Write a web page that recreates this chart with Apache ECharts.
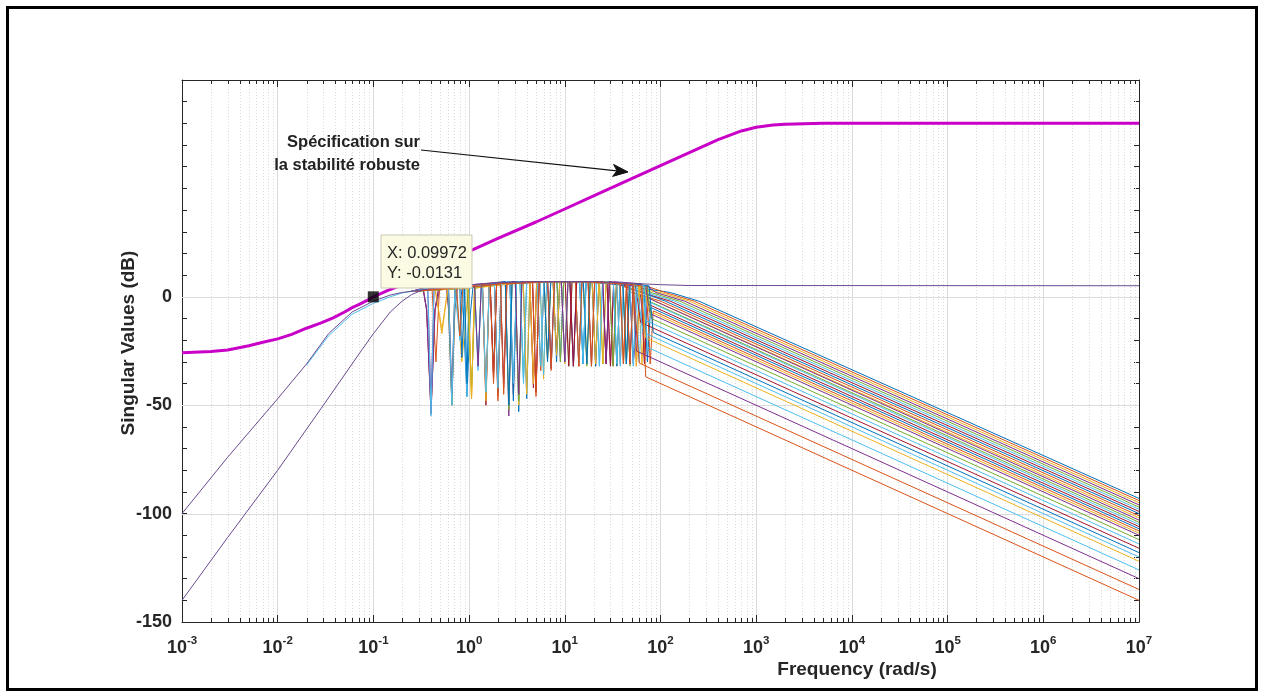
<!DOCTYPE html>
<html>
<head>
<meta charset="utf-8">
<title>Singular values</title>
<script src="https://cdn.jsdelivr.net/npm/echarts@6/dist/echarts.min.js"></script>
<style>
html, body { margin: 0; padding: 0; background: #fff; }
#main { width: 1263px; height: 697px; }
</style>
</head>
<body>
<div id="main"></div>
<script>
var FONT = '"Liberation Sans", Arial, Helvetica, sans-serif';
var AXIS_COLOR = '#262626';

// axis ticks
var decadeExp = [-3, -2, -1, 0, 1, 2, 3, 4, 5, 6, 7];
var minorMult = [2, 3, 4, 5, 6, 7, 8, 9];
var yLabelled = [-150, -100, -50, 0];
var hGrid = [-100, -50, 0];

// robust stability specification (thick magenta)
var specCurve = [[0.001,-25.8],[0.002,-25.2],[0.003,-24.5],[0.005,-22.6],[0.007,-21],[0.01,-19.4],[0.014,-17.3],
  [0.02,-14.5],[0.028,-12.1],[0.038,-9.7],[0.05,-7],[0.06,-5],[0.072,-3.4],[0.085,-1.8],[0.1,0],[0.14,2.8],
  [0.2,5.5],[0.3,9.5],[0.5,14.5],[1,21],[2,27],[5,34.5],[10,40.5],[20,46.5],[50,54.5],[100,60.5],[200,66.5],
  [400,72.5],[700,76.5],[1000,78.2],[1500,79.2],[2000,79.6],[5000,80],[1e7,80]];

// low-frequency branches
var lowA = [[0.001,-100],[0.003,-74],[0.01,-47],[0.02,-31],[0.034,-17],[0.06,-7],[0.1,-2],[0.15,0.8],[0.2,2],
  [0.3,3],[0.4,3.8],[0.6,4.5],[1,5.5],[2,6.5],[5,7],[20,7],[50,6.2],[100,5.6],[200,5.2],[1e7,5.1]];
var lowB = [[0.001,-140],[0.003,-111],[0.01,-80],[0.03,-50],[0.076,-24.4],[0.1,-17],[0.15,-7],[0.2,-2],[0.25,1],[0.32,3]];
var lowTeal = [[0.02,-31.5],[0.034,-18],[0.06,-8],[0.1,-3],[0.15,0],[0.2,1.8],[0.3,3]];

// resonant singular values with their high-frequency roll-off
var sv01 = [[0.25,2.5],[0.82,5],[0.87,-8],[0.95,-46],[1.03,-8],[1.1,5],[3.04,7],[3.3,-53],[3.56,7],[11.3,7],[12.3,-32],[13.3,7],[40.5,6],[44,-31],[47.5,6],[63,4],[126,2],[252,-2],[1e7,-93]];
var sv02 = [[0.25,2.5],[0.33,4],[0.36,-6],[0.4,-54],[0.44,-6],[0.48,4],[1.84,6],[2,-46],[2.16,6],[6.07,7],[6.6,-29],[7.13,7],[19.3,7],[21,-32],[22.7,7],[51.5,6],[56,-32],[60.5,6],[112,2],[224,-2],[1e7,-94]];
var sv03 = [[0.25,2.5],[0.44,4],[0.52,-17],[0.6,4],[0.73,4],[0.84,-30],[0.98,4],[1.06,-47],[1.14,5],[1.38,5],[1.5,-48],[1.62,5],[4.32,7],[4.7,-40],[5.08,7],[15.6,7],[17,-31],[18.4,7],[32.2,6],[35,-32],[37.8,6],[50,4],[100,2],[200,-2],[1e7,-95]];
var sv04 = [[0.25,2.5],[0.33,4],[0.36,-6],[0.4,-52],[0.44,-6],[0.5,4],[0.58,4],[0.61,-6],[0.66,-50],[0.71,-6],[0.76,5],[2.39,7],[2.6,-55],[2.81,7],[8.28,7],[9,-30],[9.72,7],[27.6,7],[30,-32],[32.4,7],[62.6,6],[68,-31],[73.4,5],[89,2],[178,-2],[1e7,-96]];
var sv05 = [[0.25,2.5],[0.6,4],[0.66,-48],[0.72,4],[1.14,5],[1.24,-32],[1.34,5],[3.4,7],[3.7,-38],[4,7],[10.1,7],[11,-32],[11.9,7],[23,7],[25,-31],[27,7],[44.2,6],[48,-32],[51.8,6],[79,2],[158,-2],[1e7,-97]];
var sv06 = [[0.25,2.5],[0.7,4],[0.8,-18],[0.88,4],[0.91,4],[0.95,-46],[1,4],[1.66,6],[1.8,-35],[1.94,6],[5.15,7],[5.6,-34],[6.05,7],[14.3,7],[15.5,-31],[16.7,7],[37.7,6],[41,-31],[44.3,6],[71,2],[141,-2],[1e7,-98]];
var sv07 = [[0.25,2.5],[1.2,5],[1.38,5],[1.5,-50],[1.62,5],[2.67,7],[2.9,-45],[3.13,7],[7.54,7],[8.2,-26],[8.86,7],[12.9,7],[14,-32],[15.1,7],[29.4,6],[32,-32],[34.6,6],[63,2],[126,-2],[1e7,-99]];
var sv08 = [[0.25,2.5],[1.84,6],[2,-44],[2.16,6],[3.68,7],[4,-47],[4.32,7],[6.62,7],[7.2,-33],[7.78,7],[19.3,7],[21,-32],[22.7,7],[47.8,5],[52,-31],[56.2,3],[112,-2],[1e7,-100]];
var sv09 = [[0.25,2.5],[0.41,4],[0.45,-30],[0.49,4],[2.12,6],[2.3,-40],[2.48,6],[9.2,7],[10,-30],[10.8,7],[35,6],[38,-31],[41,5],[50,2],[100,-2],[1e7,-101]];
var sv10 = [[0.25,2.5],[0.98,4],[1.06,-47],[1.14,4],[3.04,7],[3.3,-50],[3.56,7],[5.52,7],[6,-38],[6.48,7],[17.5,7],[19,-32],[20.5,7],[58.9,5],[64,-31],[70,0],[1e7,-102]];
var sv11 = [[0.25,2.5],[0.33,4],[0.36,-6],[0.4,-54],[0.44,-6],[0.48,4],[1.38,5],[1.5,-45],[1.62,5],[4.6,7],[5,-44],[5.4,7],[11.3,7],[12.3,-32],[13.3,7],[24.8,7],[27,-30],[29.2,6],[47.8,5],[52,-30],[62,1],[1e7,-103]];
var sv12 = [[0.25,2.5],[0.61,4],[0.66,-50],[0.71,4],[2.39,6],[2.6,-52],[2.81,6],[6.07,7],[6.6,-29],[7.13,7],[15.6,7],[17,-32],[18.4,7],[40.5,6],[44,-31],[47.5,4],[60,0],[1e7,-104]];
var sv13 = [[0.25,2.5],[0.74,4],[0.8,-20],[0.86,4],[1.14,5],[1.24,-30],[1.34,5],[3.4,7],[3.7,-40],[4,7],[8.28,7],[9,-28],[9.72,7],[21.2,7],[23,-32],[24.8,7],[55.2,5],[60,-30],[64.8,-1],[1e7,-105]];
var sv14 = [[0.25,2.5],[1.66,6],[1.8,-38],[1.94,6],[4.32,7],[4.7,-42],[5.08,7],[10.1,7],[11,-32],[11.9,7],[27.6,7],[30,-32],[32.4,6],[62.6,5],[68,-31],[73.4,-3.3],[1e7,-106]];
var sv15 = [[0.25,2.5],[0.9,4],[0.95,-40],[1,4],[2.67,7],[2.9,-48],[3.13,7],[7.54,7],[8.2,-30],[8.86,7],[14.3,7],[15.5,-31],[16.7,7],[32.2,6],[35,-32],[37.8,6],[67.2,5],[73,-30],[78.8,-4.9],[1e7,-107]];
var sv16 = [[0.25,2.5],[1.84,6],[2,-48],[2.16,6],[5.15,7],[5.6,-34],[6.05,7],[12.9,7],[14,-32],[15.1,7],[37.7,6],[41,-31],[44.3,6],[71.8,5],[78,-31],[84,-6.5],[1e7,-108]];
var sv17 = [[0.25,2.5],[0.44,4],[0.52,-15],[0.6,4],[1.38,5],[1.5,-48],[1.62,5],[3.68,7],[4,-45],[4.32,7],[9.2,7],[10,-31],[10.8,7],[23,7],[25,-31],[27,7],[51.5,5],[56,-32],[60.5,5],[68,5],[75,-6.5],[1e7,-109]];
var sv18 = [[0.25,2.5],[0.37,4],[0.4,-50],[0.43,4],[0.61,4],[0.66,-45],[0.71,4],[2.12,6],[2.3,-42],[2.48,6],[6.62,7],[7.2,-33],[7.78,7],[17.5,7],[19,-32],[20.5,7],[44.2,6],[48,-31],[51.8,6],[70,5],[78,-7.8],[1e7,-110]];
var sv19 = [[0.25,2.5],[0.95,4],[1.06,-42],[1.16,4],[3.04,7],[3.3,-48],[3.56,7],[8.28,7],[9,-30],[9.72,7],[29.4,7],[32,-32],[34.6,6],[72,5],[80,-10],[1e7,-112]];
var sv20 = [[0.25,2.5],[1.14,5],[1.24,-34],[1.34,5],[2.67,7],[2.9,-40],[3.13,7],[5.52,7],[6,-36],[6.48,7],[12.9,7],[14,-31],[15.1,7],[35,6],[38,-32],[41,6],[64,5],[70,-10.9],[1e7,-114]];
var sv21 = [[0.25,2.5],[1.66,6],[1.8,-36],[1.94,6],[4.6,7],[5,-44],[5.4,7],[11.3,7],[12.3,-32],[13.3,7],[24.8,7],[27,-31],[29.2,7],[55,5],[62,-11.8],[1e7,-116]];
var sv22 = [[0.25,2.5],[0.8,4],[0.84,-28],[0.9,4],[2.39,7],[2.6,-50],[2.81,7],[6.07,7],[6.6,-30],[7.13,7],[15.6,7],[17,-31],[18.4,7],[40.5,6],[44,-31],[47.5,6],[76,5],[84,-16.5],[1e7,-118]];
var sv23 = [[0.25,2.5],[0.37,4],[0.4,-55],[0.43,4],[1.38,5],[1.5,-44],[1.62,5],[3.4,7],[3.7,-38],[4,7],[9.2,7],[10,-30],[10.8,7],[21.2,7],[23,-32],[24.8,7],[48,6],[52,-32],[56,5],[66,-16.4],[1e7,-120]];
var sv24 = [[0.25,2.5],[0.98,4],[1.06,-47],[1.14,4],[4.32,7],[4.7,-40],[5.08,7],[7.54,7],[8.2,-27],[8.86,7],[19.3,7],[21,-31],[22.7,7],[62,5],[70,-18.9],[1e7,-122]];
var sv25 = [[0.25,2.5],[0.61,4],[0.66,-50],[0.71,4],[1.84,6],[2,-42],[2.16,6],[5.15,7],[5.6,-32],[6.05,7],[14.3,7],[15.5,-31],[16.7,7],[32.2,6],[35,-31],[37.8,6],[68,5],[73,-23.3],[1e7,-126]];
var sv26 = [[0.25,2.5],[1.14,5],[1.24,-32],[1.34,5],[3.04,7],[3.3,-45],[3.56,7],[9.2,7],[10,-30],[10.8,7],[25,7],[27,-31],[29.2,7],[52,5],[56,-25],[1e7,-130]];
var sv27 = [[0.25,2.5],[0.74,4],[0.8,-18],[0.86,4],[2.12,6],[2.3,-45],[2.48,6],[6.62,7],[7.2,-34],[7.78,7],[17.5,7],[19,-32],[20.5,7],[44,6],[48,-31],[52,5],[60,-30.6],[1e7,-135]];
var sv28 = [[0.25,2.5],[1.66,6],[1.8,-40],[1.94,6],[4.6,7],[5,-46],[5.4,7],[12.9,7],[14,-32],[15.1,7],[38,6],[41,-31],[44,6],[64,5],[70,-36.9],[1e7,-140]];

var svLines = [sv01, sv02, sv03, sv04, sv05, sv06, sv07, sv08, sv09, sv10, sv11, sv12, sv13, sv14,
  sv15, sv16, sv17, sv18, sv19, sv20, sv21, sv22, sv23, sv24, sv25, sv26, sv27, sv28];
var svColors = ['#0072BD', '#D95319', '#EDB120', '#7E2F8E', '#77AC30', '#4DBEEE', '#A2142F',
  '#0072BD', '#D95319', '#EDB120', '#7E2F8E', '#77AC30', '#4DBEEE', '#A2142F',
  '#0072BD', '#D95319', '#EDB120', '#7E2F8E', '#77AC30', '#4DBEEE', '#A2142F',
  '#0072BD', '#4DBEEE', '#EDB120', '#4DBEEE', '#7E2F8E', '#D95319', '#D95319'];

// data tip
var datatip = [[0.09972, -0.0131]];

var minorFreqs = [];
decadeExp.slice(0, -1).forEach(function (e) {
  minorMult.forEach(function (m) {
    minorFreqs.push([Number((m * Math.pow(10, e)).toPrecision(3)), 0]);
  });
});

var myChart = echarts.init(document.getElementById('main'));

function renderMinor(params, api) {
  var f = api.value(0);
  var bot = api.coord([f, -150]);
  var top = api.coord([f, 100]);
  var x = Math.round(bot[0]) + 0.5;
  return {
    type: 'group',
    children: [
      { type: 'line', shape: { x1: x, y1: top[1], x2: x, y2: bot[1] },
        style: { stroke: '#dadada', lineWidth: 1, lineDash: [1, 2] } },
      { type: 'line', shape: { x1: x, y1: bot[1], x2: x, y2: bot[1] - 4 },
        style: { stroke: AXIS_COLOR, lineWidth: 1 } },
      { type: 'line', shape: { x1: x, y1: top[1], x2: x, y2: top[1] + 4 },
        style: { stroke: AXIS_COLOR, lineWidth: 1 } }
    ]
  };
}

function renderHGrid(params, api) {
  var v = api.value(1);
  var l = api.coord([0.001, v]);
  var r = api.coord([1e7, v]);
  var y = Math.round(l[1]) + 0.5;
  return { type: 'line', shape: { x1: l[0], y1: y, x2: r[0], y2: y },
    style: { stroke: '#dcdcdc', lineWidth: 1 } };
}

var series = [
  { type: 'custom', renderItem: renderMinor, data: minorFreqs, silent: true, z: 1, clip: false },
  { type: 'custom', renderItem: renderHGrid, data: hGrid.map(function (v) { return [1, v]; }), silent: true, z: 1 }
];

function lineSeries(data, color, width, z) {
  return {
    type: 'line', data: data, showSymbol: false, symbol: 'none', silent: true, z: z,
    lineStyle: { color: color, width: width }, itemStyle: { color: color }
  };
}

svLines.forEach(function (d, i) { series.push(lineSeries(d, svColors[i], 1, 3)); });
series.push(lineSeries(lowTeal, '#4DBEEE', 1, 3));
series.push(lineSeries(lowB, '#6a4a92', 1, 3));
series.push(lineSeries(lowA, '#6a4a92', 1, 3));
series.push(lineSeries(specCurve, '#c800c8', 3, 5));
series.push({
  type: 'scatter', data: datatip, symbol: 'rect', symbolSize: 11, silent: true, z: 10,
  itemStyle: { color: '#000' }
});

function xLabel(v) {
  var e = Math.round(Math.log10(v));
  return '{b|10}{s|' + e + '}';
}

var option = {
  animation: false,
  backgroundColor: '#fff',
  grid: { left: 182, right: 124, top: 80, bottom: 75 },
  xAxis: [{
    type: 'log', logBase: 10, min: 0.001, max: 1e7, splitNumber: 10, interval: 1,
    axisLine: { show: true, onZero: false, lineStyle: { color: AXIS_COLOR, width: 1 } },
    axisTick: { show: true, inside: true, length: 7, lineStyle: { color: AXIS_COLOR } },
    axisLabel: {
      formatter: xLabel, margin: 13,
      rich: {
        b: { fontSize: 18, fontWeight: 'bold', fontFamily: FONT, color: AXIS_COLOR, lineHeight: 22, verticalAlign: 'bottom' },
        s: { fontSize: 11.5, fontWeight: 'bold', fontFamily: FONT, color: AXIS_COLOR, lineHeight: 22, verticalAlign: 'top' }
      }
    },
    splitLine: { show: true, lineStyle: { color: '#dcdcdc', width: 1 } }
  }, {
    type: 'log', logBase: 10, min: 0.001, max: 1e7, splitNumber: 10, interval: 1, position: 'top',
    axisLine: { show: true, onZero: false, lineStyle: { color: AXIS_COLOR, width: 1 } },
    axisTick: { show: true, inside: true, length: 7, lineStyle: { color: AXIS_COLOR } },
    axisLabel: { show: false },
    splitLine: { show: false }
  }],
  yAxis: [{
    type: 'value', min: -150, max: 100, interval: 10,
    axisLine: { show: true, onZero: false, lineStyle: { color: AXIS_COLOR, width: 1 } },
    axisTick: { show: true, inside: true, length: 5, lineStyle: { color: AXIS_COLOR } },
    axisLabel: {
      margin: 10, fontSize: 18, fontWeight: 'bold', fontFamily: FONT, color: AXIS_COLOR,
      formatter: function (v) { return yLabelled.indexOf(v) >= 0 ? String(v) : ''; }
    },
    splitLine: { show: false }
  }, {
    type: 'value', min: -150, max: 100, interval: 10, position: 'right',
    axisLine: { show: true, onZero: false, lineStyle: { color: AXIS_COLOR, width: 1 } },
    axisTick: { show: true, inside: true, length: 5, lineStyle: { color: AXIS_COLOR } },
    axisLabel: { show: false },
    splitLine: { show: false }
  }],
  graphic: [
    { type: 'rect', shape: { x: 7.5, y: 7.5, width: 1249, height: 682 },
      style: { fill: 'none', stroke: '#000', lineWidth: 3 }, z: 100 },
    { type: 'text', x: 129, y: 343, rotation: Math.PI / 2,
      style: { text: 'Singular Values (dB)', font: 'bold 19px ' + FONT, fill: AXIS_COLOR, align: 'center', verticalAlign: 'middle' } },
    { type: 'text', x: 857, y: 670,
      style: { text: 'Frequency (rad/s)', font: 'bold 19px ' + FONT, fill: AXIS_COLOR, align: 'center', verticalAlign: 'middle' } },
    { type: 'text', x: 420, y: 142,
      style: { text: 'Spécification sur', font: 'bold 16.5px ' + FONT, fill: '#222', align: 'right', verticalAlign: 'middle' }, z: 20 },
    { type: 'text', x: 420, y: 165,
      style: { text: 'la stabilité robuste', font: 'bold 16.5px ' + FONT, fill: '#222', align: 'right', verticalAlign: 'middle' }, z: 20 },
    { type: 'line', shape: { x1: 421, y1: 150, x2: 617, y2: 170.8 },
      style: { stroke: '#111', lineWidth: 1.2 }, z: 20 },
    { type: 'polygon', shape: { points: [[628, 172], [612.6, 176.4], [617, 170.8], [613.6, 164.4]] },
      style: { fill: '#111', stroke: '#111', lineWidth: 1 }, z: 20 },
    { type: 'rect', shape: { x: 381, y: 235, width: 91, height: 53 },
      style: { fill: '#fbfbe3', stroke: '#c9c9b6', lineWidth: 1 }, z: 20 },
    { type: 'text', x: 387, y: 253,
      style: { text: 'X: 0.09972', font: '16.5px ' + FONT, fill: '#262626', align: 'left', verticalAlign: 'middle' }, z: 21 },
    { type: 'text', x: 387, y: 273,
      style: { text: 'Y: -0.0131', font: '16.5px ' + FONT, fill: '#262626', align: 'left', verticalAlign: 'middle' }, z: 21 }
  ],
  series: series
};
myChart.setOption(option);
</script>
</body>
</html>
